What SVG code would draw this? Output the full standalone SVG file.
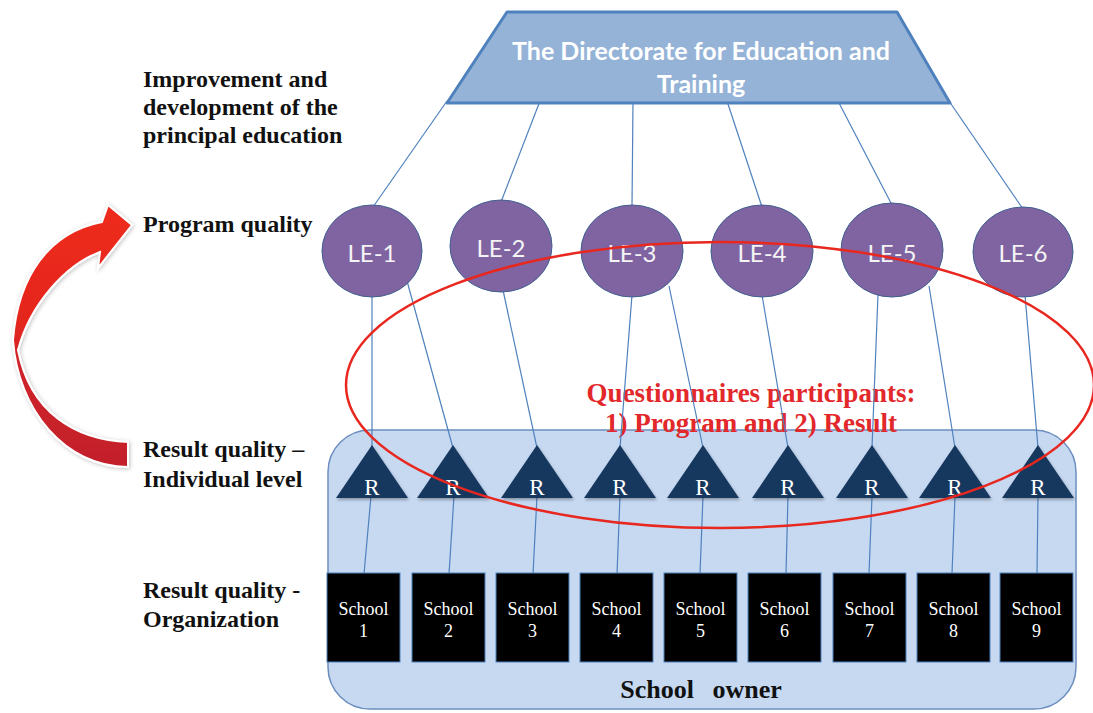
<svg xmlns="http://www.w3.org/2000/svg" width="1093" height="713" viewBox="0 0 1093 713">
  <defs>
    <linearGradient id="arrowFill" gradientUnits="userSpaceOnUse" x1="0" y1="205" x2="0" y2="470">
      <stop offset="0" stop-color="#ee2b1c"/>
      <stop offset="0.45" stop-color="#e4261f"/>
      <stop offset="0.6" stop-color="#cf2229"/>
      <stop offset="1" stop-color="#c21f2a"/>
    </linearGradient>
    <filter id="softShadow" x="-20%" y="-20%" width="140%" height="140%">
      <feDropShadow dx="1" dy="2" stdDeviation="1.5" flood-color="#000" flood-opacity="0.3"/>
    </filter>
    <filter id="arrowShadow" x="-20%" y="-20%" width="140%" height="140%">
      <feDropShadow dx="1" dy="1" stdDeviation="2" flood-color="#000" flood-opacity="0.25"/>
    </filter>
    <style>
      .label { font-family: "Liberation Serif", "Times New Roman", serif; font-weight: bold; font-size: 24px; fill: #111; }
      .red { font-family: "Liberation Serif", "Times New Roman", serif; font-weight: bold; font-size: 27px; fill: #e2282a; text-anchor: middle; }
      .conn { stroke: #4f81bd; stroke-width: 1.2; fill: none; }
      .le { fill: #8064a2; stroke: #3f5f8f; stroke-width: 1; }
      .leText { font-family: Lato, "Open Sans", sans-serif; font-size: 24px; fill: #f4f4f4; text-anchor: middle; }
      .tri { fill: #17375e; filter: url(#softShadow); }
      .triText { font-family: "Liberation Serif", serif; font-size: 23px; fill: #ffffff; text-anchor: middle; }
      .school { fill: #000; stroke: #4f81bd; stroke-width: 1; }
      .schoolText { font-family: "Liberation Serif", serif; font-size: 18px; fill: #ffffff; text-anchor: middle; }
    </style>
  </defs>

  <rect width="1093" height="713" fill="#ffffff"/>

  <!-- level labels -->
  <g id="labels">
    <text class="label" x="143" y="87">Improvement and</text>
    <text class="label" x="143" y="115">development of the</text>
    <text class="label" x="143" y="143">principal education</text>
    <text class="label" x="143" y="232">Program quality</text>
    <text class="label" x="143" y="457">Result quality –</text>
    <text class="label" x="143" y="487">Individual level</text>
    <text class="label" x="143" y="598">Result quality -</text>
    <text class="label" x="143" y="627">Organization</text>
  </g>

  <!-- feedback arrow from result quality back to program quality -->
  <g id="feedback-arrow">
    <path d="M 128,442 C 75,440 30,412 18,350 C 30,305 65,265 100,252 L 98,268 L 132,225 L 108,205 L 102,222 C 50,232 18,275 13,340 C 18,410 65,467 128,467 Z"
          fill="url(#arrowFill)" stroke="#ffffff" stroke-width="2" stroke-linejoin="miter" filter="url(#arrowShadow)"/>
  </g>

  <!-- school owner container -->
  <g id="school-owner">
    <rect x="328" y="430" width="748" height="279" rx="42" ry="42" fill="#c6d9f1" stroke="#6c8ebf" stroke-width="1.5"/>
    <text x="701" y="698" font-family="'Liberation Serif', serif" font-weight="bold" font-size="26" fill="#111" text-anchor="middle" word-spacing="12">School owner</text>
  </g>

  <!-- questionnaire caption -->
  <g id="caption">
    <text class="red" x="751" y="402">Questionnaires participants:</text>
    <text class="red" x="751" y="432">1) Program and 2) Result</text>
  </g>

  <!-- connectors -->
  <g id="connectors">
    <line class="conn" x1="447" y1="101" x2="373" y2="207"/>
    <line class="conn" x1="540" y1="101" x2="501" y2="202"/>
    <line class="conn" x1="633" y1="101" x2="632" y2="207"/>
    <line class="conn" x1="727" y1="101" x2="762" y2="207"/>
    <line class="conn" x1="838" y1="101" x2="892" y2="205"/>
    <line class="conn" x1="949" y1="101" x2="1023" y2="209"/>

    <line class="conn" x1="372" y1="295" x2="372" y2="448"/>
    <line class="conn" x1="407" y1="281" x2="453" y2="448"/>
    <line class="conn" x1="503" y1="290" x2="537" y2="448"/>
    <line class="conn" x1="632" y1="295" x2="620" y2="448"/>
    <line class="conn" x1="669" y1="286" x2="703" y2="448"/>
    <line class="conn" x1="762" y1="295" x2="788" y2="448"/>
    <line class="conn" x1="878" y1="294" x2="872" y2="448"/>
    <line class="conn" x1="929" y1="286" x2="955" y2="448"/>
    <line class="conn" x1="1025" y1="295" x2="1038" y2="448"/>

    <line class="conn" x1="371" y1="496" x2="364" y2="574"/>
    <line class="conn" x1="454" y1="496" x2="449" y2="574"/>
    <line class="conn" x1="537" y1="496" x2="533" y2="574"/>
    <line class="conn" x1="620" y1="496" x2="617" y2="574"/>
    <line class="conn" x1="703" y1="496" x2="700" y2="574"/>
    <line class="conn" x1="788" y1="496" x2="786" y2="574"/>
    <line class="conn" x1="872" y1="496" x2="869" y2="574"/>
    <line class="conn" x1="955" y1="496" x2="952" y2="574"/>
    <line class="conn" x1="1038" y1="496" x2="1037" y2="574"/>
  </g>

  <!-- directorate -->
  <g id="directorate">
    <polygon points="507,12 897,12 950,103 447,103" fill="#95b3d7" stroke="#4f81bd" stroke-width="3" stroke-linejoin="round"/>
    <text x="701" y="60" font-family="Lato, 'Open Sans', sans-serif" font-weight="bold" font-size="25" fill="#ffffff" text-anchor="middle">The Directorate for Education and</text>
    <text x="701" y="93" font-family="Lato, 'Open Sans', sans-serif" font-weight="bold" font-size="25" fill="#ffffff" text-anchor="middle">Training</text>
  </g>

  <!-- leadership education providers -->
  <g id="le-1"><ellipse class="le" cx="372" cy="251" rx="50" ry="46"/><text class="leText" x="372" y="262">LE-1</text></g>
  <g id="le-2"><ellipse class="le" cx="501" cy="246" rx="51" ry="46"/><text class="leText" x="501" y="257">LE-2</text></g>
  <g id="le-3"><ellipse class="le" cx="632" cy="251" rx="51" ry="46"/><text class="leText" x="632" y="262">LE-3</text></g>
  <g id="le-4"><ellipse class="le" cx="762" cy="251" rx="51" ry="46"/><text class="leText" x="762" y="262">LE-4</text></g>
  <g id="le-5"><ellipse class="le" cx="892" cy="250" rx="51" ry="47"/><text class="leText" x="892" y="262">LE-5</text></g>
  <g id="le-6"><ellipse class="le" cx="1023" cy="252" rx="50" ry="45"/><text class="leText" x="1023" y="262">LE-6</text></g>

  <!-- principals (R) -->
  <g id="r-1"><polygon class="tri" points="372,445 408,498 336,498"/><text class="triText" x="372" y="495">R</text></g>
  <g id="r-2"><polygon class="tri" points="453,445 489,498 417,498"/><text class="triText" x="453" y="495">R</text></g>
  <g id="r-3"><polygon class="tri" points="537,445 573,498 501,498"/><text class="triText" x="537" y="495">R</text></g>
  <g id="r-4"><polygon class="tri" points="620,445 656,498 584,498"/><text class="triText" x="620" y="495">R</text></g>
  <g id="r-5"><polygon class="tri" points="703,445 739,498 667,498"/><text class="triText" x="703" y="495">R</text></g>
  <g id="r-6"><polygon class="tri" points="788,445 824,498 752,498"/><text class="triText" x="788" y="495">R</text></g>
  <g id="r-7"><polygon class="tri" points="872,445 908,498 836,498"/><text class="triText" x="872" y="495">R</text></g>
  <g id="r-8"><polygon class="tri" points="955,445 991,498 919,498"/><text class="triText" x="955" y="495">R</text></g>
  <g id="r-9"><polygon class="tri" points="1038,445 1074,498 1002,498"/><text class="triText" x="1038" y="495">R</text></g>

  <!-- schools -->
  <g id="school-1"><rect class="school" x="327" y="573" width="73" height="89"/><text class="schoolText" x="363.5" y="615">School</text><text class="schoolText" x="363.5" y="637">1</text></g>
  <g id="school-2"><rect class="school" x="412" y="573" width="73" height="89"/><text class="schoolText" x="448.5" y="615">School</text><text class="schoolText" x="448.5" y="637">2</text></g>
  <g id="school-3"><rect class="school" x="496" y="573" width="73" height="89"/><text class="schoolText" x="532.5" y="615">School</text><text class="schoolText" x="532.5" y="637">3</text></g>
  <g id="school-4"><rect class="school" x="580" y="573" width="73" height="89"/><text class="schoolText" x="616.5" y="615">School</text><text class="schoolText" x="616.5" y="637">4</text></g>
  <g id="school-5"><rect class="school" x="664" y="573" width="73" height="89"/><text class="schoolText" x="700.5" y="615">School</text><text class="schoolText" x="700.5" y="637">5</text></g>
  <g id="school-6"><rect class="school" x="748" y="573" width="73" height="89"/><text class="schoolText" x="784.5" y="615">School</text><text class="schoolText" x="784.5" y="637">6</text></g>
  <g id="school-7"><rect class="school" x="833" y="573" width="73" height="89"/><text class="schoolText" x="869.5" y="615">School</text><text class="schoolText" x="869.5" y="637">7</text></g>
  <g id="school-8"><rect class="school" x="917" y="573" width="73" height="89"/><text class="schoolText" x="953.5" y="615">School</text><text class="schoolText" x="953.5" y="637">8</text></g>
  <g id="school-9"><rect class="school" x="1000" y="573" width="73" height="89"/><text class="schoolText" x="1036.5" y="615">School</text><text class="schoolText" x="1036.5" y="637">9</text></g>

  <!-- questionnaire participants outline -->
  <g id="participants">
    <ellipse cx="720" cy="385" rx="374" ry="143" fill="none" stroke="#e8271f" stroke-width="2.5"/>
  </g>
</svg>
